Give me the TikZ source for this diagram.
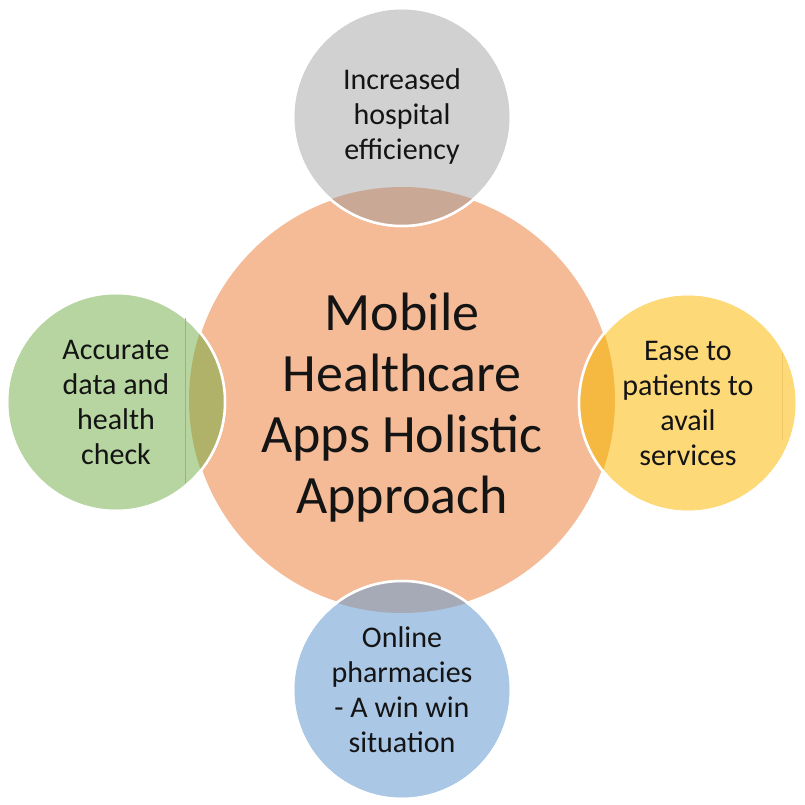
\documentclass[tikz,border=0pt]{standalone}
\usepackage{fontspec}
\setmainfont{Carlito}
\definecolor{hubfill}{RGB}{244,187,150}
\definecolor{topfill}{RGB}{209,209,209}
\definecolor{leftfill}{RGB}{183,213,160}
\definecolor{rightfill}{RGB}{254,217,120}
\definecolor{botfill}{RGB}{170,199,230}
\definecolor{topov}{RGB}{201,168,150}
\definecolor{leftov}{RGB}{176,178,106}
\definecolor{rightov}{RGB}{245,185,66}
\definecolor{botov}{RGB}{166,170,182}
\definecolor{txt}{RGB}{20,20,20}
\tikzset{
  hubnode/.style={circle, inner sep=0pt, minimum size=426pt, fill=hubfill, draw=white, line width=2.5pt},
  hubtext/.style={inner sep=0pt, text=txt, align=center, font=\fontsize{54}{61}\selectfont},
  satnode/.style={circle, inner sep=0pt, minimum size=218pt, draw=white, line width=2.5pt,
    text=txt, align=center, font=\fontsize{30}{35}\selectfont},
  rim/.style={draw=white, line width=2.5pt},
}
\begin{document}
\begin{tikzpicture}[x=1pt,y=-1pt]
\useasboundingbox (0,0) rectangle (804,805);
\node[hubnode] (hub) at (402,400) {};
\node[hubtext] (hubt) at ([yshift=-8pt]hub.center) {Mobile\\Healthcare\\Apps Holistic\\Approach};
\node[satnode, fill=topfill] (top) at (402,117) {Increased\\hospital\\efficiency};
\node[satnode, fill=leftfill] (left) at (116,402) {Accurate\\data and\\health\\check};
\node[satnode, fill=rightfill] (right) at (688,403) {Ease to\\patients to\\avail\\services};
\node[satnode, fill=botfill] (bot) at (402,690) {Online\\pharmacies\\- A win win\\situation};
\begin{scope}
  \clip (hub.center) circle[radius=213pt];
  \fill[topov] (top.center) circle[radius=109pt];
  \fill[leftov] (left.center) circle[radius=109pt];
  \fill[rightov] (right.center) circle[radius=109pt];
  \fill[botov] (bot.center) circle[radius=109pt];
\end{scope}
\draw[rim] (top.center) circle[radius=109pt];
\draw[rim] (left.center) circle[radius=109pt];
\draw[rim] (right.center) circle[radius=109pt];
\draw[rim] (bot.center) circle[radius=109pt];
\coordinate (la) at (185,318);
\coordinate (lb) at (185,483);
\draw[gray!70, line width=0.7pt] (la) -- (lb);
\coordinate (ra) at (782,353);
\coordinate (rb) at (782,440);
\draw[rightfill!85!orange!90!black, line width=0.4pt, opacity=0.5] (ra) -- (rb);
\end{tikzpicture}
\end{document}
